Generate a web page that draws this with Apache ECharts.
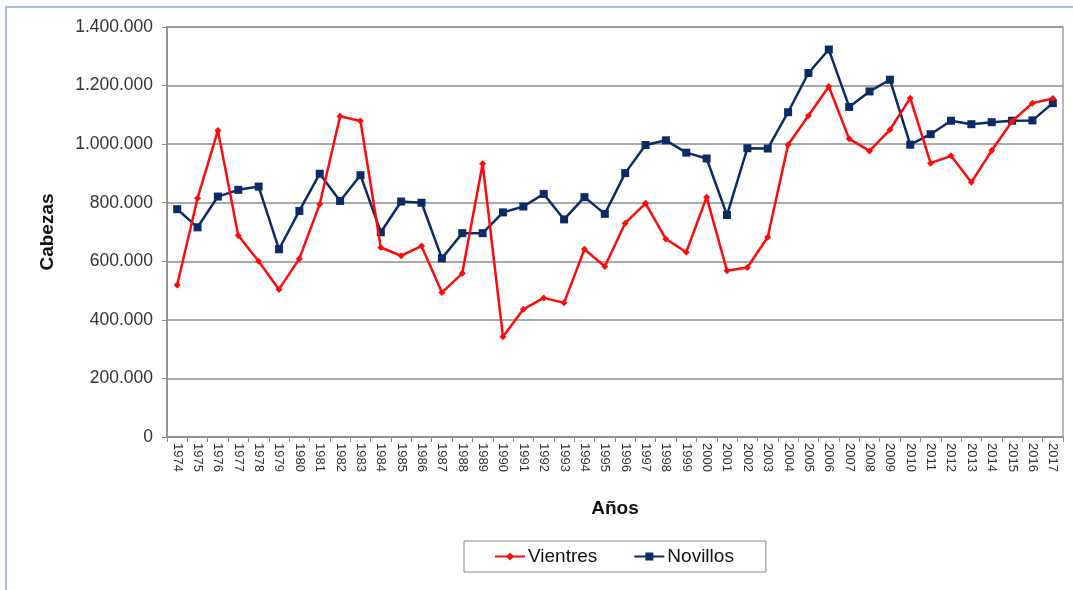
<!DOCTYPE html>
<html>
<head>
<meta charset="utf-8">
<script src="https://cdn.jsdelivr.net/npm/echarts@6/dist/echarts.min.js"></script>
<style>
html,body{margin:0;padding:0;background:#fff;}
#c{width:1073px;height:590px;}
</style>
</head>
<body>
<div id="c"></div>
<script>
const years = ['1974','1975','1976','1977','1978','1979','1980','1981','1982','1983','1984','1985','1986','1987','1988','1989','1990','1991','1992','1993','1994','1995','1996','1997','1998','1999','2000','2001','2002','2003','2004','2005','2006','2007','2008','2009','2010','2011','2012','2013','2014','2015','2016','2017'];
const vientres = [519000,815000,1047000,688000,600000,504000,609000,795000,1095000,1079000,647000,619000,652000,493000,559000,933000,342000,436000,475000,458000,641000,582000,730000,798000,676000,631000,819000,568000,579000,682000,998000,1097000,1197000,1018000,977000,1049000,1157000,935000,960000,870000,978000,1078000,1140000,1156000];
const novillos = [778000,716000,821000,844000,855000,641000,772000,899000,806000,894000,699000,804000,800000,610000,696000,696000,767000,787000,830000,743000,819000,762000,901000,997000,1013000,971000,951000,758000,986000,985000,1109000,1243000,1323000,1127000,1180000,1220000,998000,1034000,1080000,1068000,1075000,1080000,1081000,1140000];
const yTicks = [0,200000,400000,600000,800000,1000000,1200000,1400000];

function fmt(v){ return String(v).replace(/\B(?=(\d{3})+(?!\d))/g,'.'); }

const chart = echarts.init(document.getElementById('c'), null, {renderer:'canvas'});
const FONT = '"Liberation Sans", Arial, sans-serif';
chart.setOption({
  animation:false,
  backgroundColor:'#ffffff',
  textStyle:{fontFamily:FONT},
  graphic:[{
    type:'rect', silent:true, z:-1,
    shape:{x:6,y:7,width:1200,height:700},
    style:{fill:'none',stroke:'#a9bedb',lineWidth:2}
  }],
  grid:{left:167,right:10,top:27,bottom:153,show:true,borderColor:'#a0a0a0',borderWidth:1.5,backgroundColor:'transparent'},
  legend:{
    left:464, top:541,
    padding:[6,32,6,30],
    borderColor:'#888', borderWidth:1,
    itemGap:36, itemWidth:30, itemHeight:10,
    textStyle:{fontFamily:FONT,fontSize:19,color:'#111',padding:[0,0,0,-2]},
    data:['Vientres','Novillos']
  },
  xAxis:{
    type:'category', data:years, boundaryGap:true,
    name:'Años', nameLocation:'middle', nameGap:62,
    nameTextStyle:{fontFamily:FONT,fontSize:19,fontWeight:'bold',color:'#111'},
    axisLine:{lineStyle:{color:'#8a8a8a',width:1.5}},
    axisTick:{show:true,length:5,lineStyle:{color:'#8a8a8a'}},
    axisLabel:{rotate:-90,fontSize:13,color:'#333',margin:6,interval:0,fontFamily:FONT}
  },
  yAxis:{
    type:'value', min:0, max:1400000, interval:200000,
    name:'Cabezas', nameLocation:'middle', nameGap:110,
    nameTextStyle:{fontFamily:FONT,fontSize:19,fontWeight:'bold',color:'#111'},
    axisLine:{show:true,lineStyle:{color:'#8a8a8a',width:1.5}},
    axisTick:{show:true,length:5,lineStyle:{color:'#8a8a8a'}},
    axisLabel:{fontSize:17.5,color:'#333',margin:14,fontFamily:FONT,formatter:v=>fmt(v)},
    splitLine:{lineStyle:{color:'#8c8c8c',width:1.5}}
  },
  series:[
    {name:'Vientres',type:'line',data:vientres,color:'#ff0a0a',
     lineStyle:{width:2.5,color:'#ff0a0a'},symbol:'diamond',symbolSize:7,
     itemStyle:{color:'#ff0a0a'}, z:3},
    {name:'Novillos',type:'line',data:novillos,color:'#0b2a66',
     lineStyle:{width:2.5,color:'#0b2a66'},symbol:'rect',symbolSize:8,
     itemStyle:{color:'#0b2a66'}, z:2}
  ]
});
</script>
</body>
</html>
